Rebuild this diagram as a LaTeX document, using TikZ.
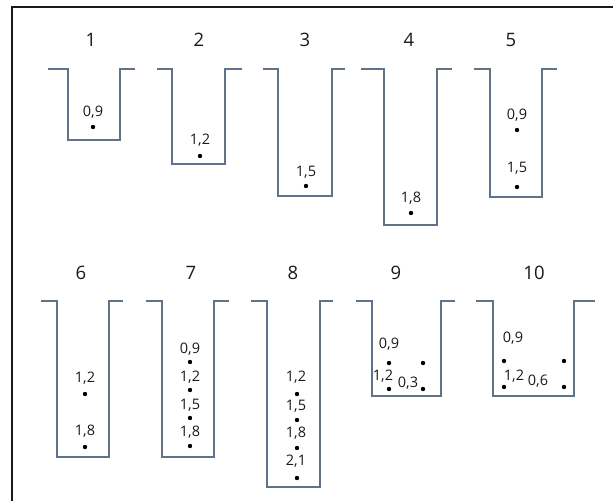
\documentclass[tikz,border=0pt]{standalone}
\usepackage{fontspec}
\setmainfont{Open Sans}
\definecolor{wall}{HTML}{5E7387}
\definecolor{ink}{HTML}{1A1A1A}
\tikzset{
  wellline/.style={draw=wall, line width=1.3pt},
  frameline/.style={draw=ink, line width=1.6pt},
  title/.style={font=\fontsize{18.5}{18.5}\selectfont, text=ink, inner sep=0pt},
  lab/.style={font=\fontsize{14.5}{14.5}\selectfont, text=ink, inner sep=0pt},
  dot/.style={circle, fill=black, inner sep=0pt, minimum size=4.4pt}
}
\begin{document}
\begin{tikzpicture}[x=1pt,y=-1pt]
\useasboundingbox (0,0) rectangle (613,501);
\fill[white] (0,0) rectangle (613,501);
% frame (left and top)
\coordinate (fb) at (12,501);
\coordinate (fc) at (12,7);
\coordinate (fr) at (613,7);
\draw[frameline] (fb) -- (fc) -- (fr);

% ---- top row ----
% well 1
\draw[wellline] (48,69) -- (68,69) -- (68,140) -- (120,140) -- (120,69) -- (135,69);
\node[title] (t1) at (91,40) {1};
\node[dot] (d1a) at (93,127) {};
\node[lab] (l1a) at (93,112) {0,9};
% well 2
\draw[wellline] (157,69) -- (172,69) -- (172,164) -- (225,164) -- (225,69) -- (242,69);
\node[title] (t2) at (199,40) {2};
\node[dot] (d2a) at (200,156) {};
\node[lab] (l2a) at (200,140) {1,2};
% well 3
\draw[wellline] (263,69) -- (278,69) -- (278,196) -- (332,196) -- (332,69) -- (345,69);
\node[title] (t3) at (305,40) {3};
\node[dot] (d3a) at (306,186) {};
\node[lab] (l3a) at (306,172) {1,5};
% well 4
\draw[wellline] (361,69) -- (384,69) -- (384,225) -- (437,225) -- (437,69) -- (452,69);
\node[title] (t4) at (409,40) {4};
\node[dot] (d4a) at (411,213) {};
\node[lab] (l4a) at (411,198) {1,8};
% well 5
\draw[wellline] (474,69) -- (490,69) -- (490,197) -- (542,197) -- (542,69) -- (557,69);
\node[title] (t5) at (511,40) {5};
\node[dot] (d5a) at (517,130) {};
\node[lab] (l5a) at (517,115) {0,9};
\node[dot] (d5b) at (517,187) {};
\node[lab] (l5b) at (517,168) {1,5};

% ---- bottom row ----
% well 6
\draw[wellline] (41,301) -- (57,301) -- (57,457) -- (109,457) -- (109,301) -- (123,301);
\node[title] (t6) at (81,273) {6};
\node[dot] (d6a) at (85,394) {};
\node[lab] (l6a) at (85,378) {1,2};
\node[dot] (d6b) at (85,447) {};
\node[lab] (l6b) at (85,431) {1,8};
% well 7
\draw[wellline] (146,301) -- (162,301) -- (162,457) -- (214,457) -- (214,301) -- (229,301);
\node[title] (t7) at (191,273) {7};
\node[lab] (l7a) at (190,349) {0,9};
\node[dot] (d7a) at (190,362) {};
\node[lab] (l7b) at (190,377) {1,2};
\node[dot] (d7b) at (190,390) {};
\node[lab] (l7c) at (190,405) {1,5};
\node[dot] (d7c) at (190,418) {};
\node[lab] (l7d) at (190,432) {1,8};
\node[dot] (d7d) at (190,446) {};
% well 8
\draw[wellline] (251,301) -- (267,301) -- (267,487) -- (320,487) -- (320,301) -- (333,301);
\node[title] (t8) at (293,273) {8};
\node[lab] (l8a) at (296,377) {1,2};
\node[dot] (d8a) at (297,394) {};
\node[lab] (l8b) at (296,406) {1,5};
\node[dot] (d8b) at (297,420) {};
\node[lab] (l8c) at (296,433) {1,8};
\node[dot] (d8c) at (297,448) {};
\node[lab] (l8d) at (296,461) {2,1};
\node[dot] (d8d) at (297,478) {};
% well 9
\draw[wellline] (356,301) -- (372,301) -- (372,396) -- (441,396) -- (441,301) -- (455,301);
\node[title] (t9) at (396,273) {9};
\node[dot] (d9a) at (389,363) {};
\node[dot] (d9b) at (423,363) {};
\node[dot] (d9c) at (389,389) {};
\node[dot] (d9d) at (423,389) {};
\node[lab] (l9a) at (389,344) {0,9};
\node[lab] (l9b) at (383,376) {1,2};
\node[lab] (l9c) at (408,383) {0,3};
% well 10
\draw[wellline] (476,301) -- (493,301) -- (493,396) -- (574,396) -- (574,301) -- (595,301);
\node[title] (t10) at (534,273) {10};
\node[dot] (d10a) at (504,361) {};
\node[dot] (d10b) at (564,361) {};
\node[dot] (d10c) at (504,387) {};
\node[dot] (d10d) at (564,387) {};
\node[lab] (l10a) at (513,338) {0,9};
\node[lab] (l10b) at (514,376) {1,2};
\node[lab] (l10c) at (538,381) {0,6};
\end{tikzpicture}
\end{document}
